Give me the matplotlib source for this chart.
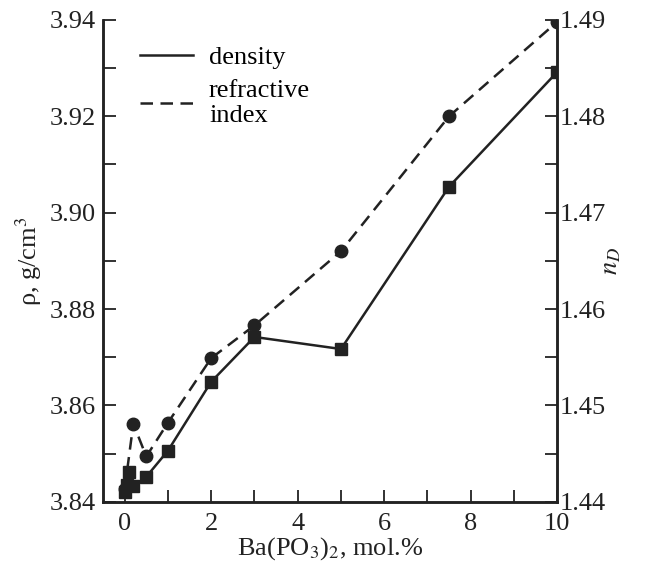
import matplotlib
matplotlib.use('Agg')
import matplotlib.pyplot as plt
from matplotlib.lines import Line2D
from matplotlib.ticker import MultipleLocator

plt.rcParams['font.family'] = ['Liberation Serif', 'DejaVu Serif']
plt.rcParams['mathtext.fontset'] = 'stix'

# density, g/cm3 (left axis)
conc_rho = [0, 0.05, 0.1, 0.2, 0.5, 1, 2, 3, 5, 7.5, 10]
density = [3.8421, 3.8435, 3.8462, 3.8432, 3.8452, 3.8506, 3.8649, 3.8742, 3.8717, 3.9054, 3.9292]

# refractive index n_D (right axis)
conc_n = [0, 0.2, 0.5, 1, 2, 3, 5, 7.5, 10]
n_d = [1.4413, 1.4481, 1.4447, 1.4482, 1.4549, 1.4583, 1.4660, 1.4800, 1.4898]

fig = plt.figure(figsize=(6.48, 5.67), dpi=100)
ax = fig.add_axes([0.159, 0.115, 0.701, 0.85])
ax2 = ax.twinx()

ax2.plot(conc_n, n_d, color='#222222', lw=1.8, ls=(0, (5, 3)),
         marker='o', ms=9, mfc='#222222', mec='#222222')
ax.plot(conc_rho, density, color='#222222', lw=1.8, ls='-',
        marker='s', ms=9, mfc='#222222', mec='#222222')
ax.set_zorder(ax2.get_zorder() + 1)
ax.patch.set_visible(False)

ax.set_xlim(-0.5, 10)
ax.set_ylim(3.84, 3.94)
ax2.set_ylim(1.44, 1.49)

ax.xaxis.set_major_locator(MultipleLocator(2))
ax.xaxis.set_minor_locator(MultipleLocator(1))
ax.yaxis.set_major_locator(MultipleLocator(0.02))
ax.yaxis.set_minor_locator(MultipleLocator(0.01))
ax2.yaxis.set_major_locator(MultipleLocator(0.01))
ax2.yaxis.set_minor_locator(MultipleLocator(0.005))
ax.yaxis.set_major_formatter(plt.FormatStrFormatter('%.2f'))
ax2.yaxis.set_major_formatter(plt.FormatStrFormatter('%.2f'))

fs = 19
for a in (ax, ax2):
    a.spines['top'].set_visible(False)
    for s in a.spines.values():
        s.set_linewidth(1.8)
        s.set_color('#222222')
    a.tick_params(which='both', direction='in', width=1.3, colors='#222222',
                  labelsize=fs, top=False)
    a.tick_params(which='major', length=9)
    a.tick_params(which='minor', length=9)
ax.tick_params(axis='y', right=False, pad=5)
ax2.tick_params(axis='y', left=False, pad=2)
ax.tick_params(axis='x', pad=8)

ax.set_xlabel('Ba(PO$_3$)$_2$, mol.%', fontsize=fs, labelpad=0, color='#222222')
ax.set_ylabel('ρ, g/cm$^3$', fontsize=fs, labelpad=4, color='#222222')
ax2.set_ylabel('$n_D$', fontsize=fs, labelpad=-4, color='#222222')

handles = [Line2D([], [], color='#222222', lw=1.8, ls='-'),
           Line2D([], [], color='#222222', lw=1.8, ls=(0, (5, 3)))]
ax.legend(handles, ['density', 'refractive\nindex'], loc='upper left',
          bbox_to_anchor=(0.03, 0.995), frameon=False, fontsize=fs,
          handlelength=2.0, handletextpad=0.6, labelspacing=0.4)

fig.savefig('out.png', dpi=100)
